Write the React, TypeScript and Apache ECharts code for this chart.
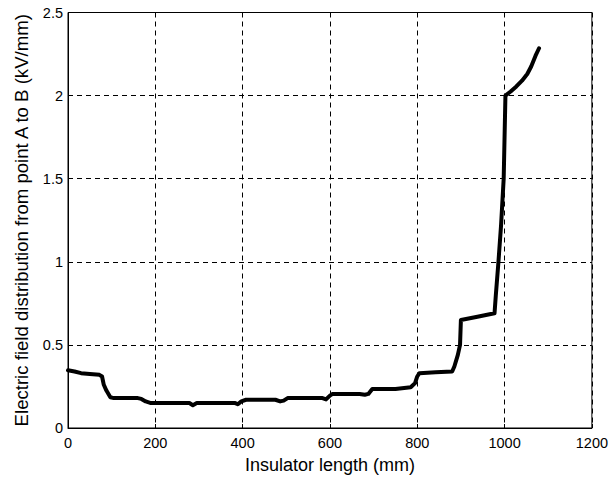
import React, { useEffect, useRef } from "react";
import * as echarts from "echarts";

const xValues = [0, 15, 30, 50, 72, 78, 82, 88, 97, 105, 160, 168, 178, 190, 278, 286, 295, 383, 389, 397, 408, 475, 486, 494, 503, 583, 591, 600, 606, 668, 680, 688, 697, 750, 785, 795, 800, 805, 842, 880, 885, 893, 898, 900, 935, 977, 980, 986, 992, 998, 1002, 1014, 1027, 1040, 1052, 1061, 1071, 1079];
const yValues = [0.347, 0.34, 0.33, 0.325, 0.32, 0.31, 0.26, 0.225, 0.185, 0.18, 0.18, 0.175, 0.16, 0.15, 0.15, 0.137, 0.15, 0.15, 0.143, 0.16, 0.17, 0.17, 0.16, 0.165, 0.18, 0.18, 0.172, 0.195, 0.205, 0.205, 0.2, 0.205, 0.235, 0.235, 0.245, 0.27, 0.31, 0.33, 0.335, 0.34, 0.37, 0.44, 0.5, 0.65, 0.668, 0.69, 0.8, 1.0, 1.22, 1.5, 2.0, 2.025, 2.055, 2.09, 2.13, 2.175, 2.24, 2.285];

const xLabel = "Insulator length (mm)";
const yLabel = "Electric field distribution from point A to B (kV/mm)";

export default function App() {
  const ref = useRef<HTMLDivElement>(null);
  useEffect(() => {
    if (!ref.current) return;
    const chart = echarts.init(ref.current, undefined, { renderer: "svg" });
    const font = "'Liberation Sans', Arial, sans-serif";
    const gridLine = { show: true, lineStyle: { color: "#000", type: [5, 4] as any, width: 1 } };
    chart.setOption({
      animation: false,
      backgroundColor: "#fff",
      grid: { left: 68, right: 16, top: 12.5, bottom: 50.5, show: true, borderColor: "#000", borderWidth: 1, backgroundColor: "transparent" },
      xAxis: {
        type: "value",
        min: 0,
        max: 1200,
        interval: 200,
        name: xLabel,
        nameLocation: "middle",
        nameGap: 28,
        nameTextStyle: { fontFamily: font, fontSize: 18, color: "#000" },
        axisLine: { show: true, lineStyle: { color: "#000" } },
        axisTick: { show: true, inside: true, length: 4, lineStyle: { color: "#000" } },
        axisLabel: { fontFamily: font, fontSize: 14.5, color: "#000", margin: 7.5, formatter: (v: number) => String(v) },
        splitLine: gridLine,
      },
      yAxis: {
        type: "value",
        min: 0,
        max: 2.5,
        interval: 0.5,
        name: yLabel,
        nameLocation: "middle",
        nameGap: 37,
        nameTextStyle: { fontFamily: font, fontSize: 18.6, color: "#000" },
        axisLine: { show: true, lineStyle: { color: "#000" } },
        axisTick: { show: true, inside: true, length: 4, lineStyle: { color: "#000" } },
        axisLabel: { fontFamily: font, fontSize: 14.5, color: "#000", margin: 5, formatter: (v: number) => String(v) },
        splitLine: gridLine,
      },
      series: [
        {
          type: "line",
          data: xValues.map((x, i) => [x, yValues[i]]),
          showSymbol: false,
          symbol: "none",
          lineStyle: { color: "#000", width: 4, join: "round", cap: "round" },
        },
      ],
    });
    return () => chart.dispose();
  }, []);
  return <div ref={ref} style={{ position: "fixed", left: 0, top: 0, width: 611, height: 479 }} />;
}
